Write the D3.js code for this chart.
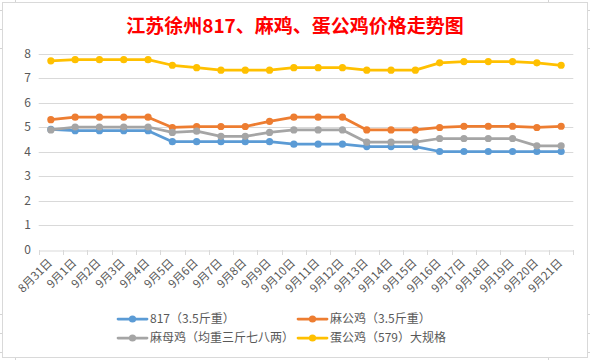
<!DOCTYPE html>
<html><head><meta charset="utf-8">
<script src="https://cdn.jsdelivr.net/npm/d3@7/dist/d3.min.js"></script>
<style>
html,body{margin:0;padding:0;background:#fff;}
svg{display:block;}
text{font-family:"Noto Sans CJK SC","Noto Sans",sans-serif;}
</style></head>
<body>
<svg id="chart" width="590" height="360"></svg>
<script>
const title = "江苏徐州817、麻鸡、蛋公鸡价格走势图";
const categories = ["8月31日","9月1日","9月2日","9月3日","9月4日","9月5日","9月6日","9月7日","9月8日","9月9日","9月10日","9月11日","9月12日","9月13日","9月14日","9月15日","9月16日","9月17日","9月18日","9月19日","9月20日","9月21日"];
const seriesNames = ["817（3.5斤重）","麻公鸡（3.5斤重）","麻母鸡（均重三斤七八两）","蛋公鸡（579）大规格"];
const s817   = [4.9,4.85,4.85,4.85,4.85,4.4,4.4,4.4,4.4,4.4,4.3,4.3,4.3,4.2,4.2,4.2,4.0,4.0,4.0,4.0,4.0,4.0];
const sMaGong= [5.3,5.4,5.4,5.4,5.4,4.98,5.02,5.02,5.02,5.23,5.4,5.4,5.4,4.88,4.88,4.88,4.98,5.03,5.03,5.03,4.98,5.03];
const sMaMu  = [4.88,5.0,5.0,5.0,5.0,4.78,4.83,4.62,4.62,4.78,4.88,4.88,4.88,4.38,4.38,4.38,4.53,4.53,4.53,4.53,4.23,4.23];
const sDan   = [7.7,7.75,7.75,7.75,7.75,7.52,7.42,7.32,7.32,7.32,7.42,7.42,7.42,7.32,7.32,7.32,7.62,7.67,7.67,7.67,7.62,7.52];
const yTicks = [0,1,2,3,4,5,6,7,8];
const colors = ["#5b9bd5","#ed7d31","#a5a5a5","#ffc000"];

const svg = d3.select("#chart");
svg.append("rect").attr("width",590).attr("height",360).attr("fill","#fff");

// spreadsheet cell marks outside chart
const g0 = svg.append("g").attr("stroke","#d4d4d4").attr("stroke-width",1);
[10,29,48,314,333,352].forEach(y=>{
  g0.append("line").attr("x1",0).attr("x2",2.5).attr("y1",y+0.5).attr("y2",y+0.5);
  g0.append("line").attr("x1",587.5).attr("x2",590).attr("y1",y+0.5).attr("y2",y+0.5);
});
[15,548].forEach(x=>{
  g0.append("line").attr("x1",x+0.5).attr("x2",x+0.5).attr("y1",0).attr("y2",2.5);
  g0.append("line").attr("x1",x+0.5).attr("x2",x+0.5).attr("y1",357.5).attr("y2",360);
});
// chart border
svg.append("rect").attr("x",2.5).attr("y",2.5).attr("width",585).attr("height",355)
  .attr("fill","#fff").attr("stroke","#d9d9d9").attr("stroke-width",1);

svg.append("text").attr("x",295).attr("y",33).attr("text-anchor","middle")
  .attr("fill","#ff0000").attr("font-size",19).attr("font-weight","bold").text(title);

const x = d3.scaleBand().domain(categories).range([38.7,573.3]);
const y = d3.scaleLinear().domain([0,8]).range([249.5,53.5]);

// gridlines
svg.append("g").selectAll("line").data(yTicks.filter(d=>d>0)).join("line")
  .attr("x1",38.7).attr("x2",573.3)
  .attr("y1",d=>Math.round(y(d))+0.5).attr("y2",d=>Math.round(y(d))+0.5)
  .attr("stroke","#d9d9d9").attr("stroke-width",1);

// y axis labels
const ya = svg.append("g").attr("transform","translate(31,0)")
  .call(d3.axisLeft(y).tickValues(yTicks).tickSize(0).tickPadding(0));
ya.select(".domain").remove();
ya.selectAll("text").attr("font-size",12).attr("fill","#595959")
  .attr("font-family","'Noto Sans CJK SC','Noto Sans',sans-serif");

// x axis
const xa = svg.append("g").attr("transform",`translate(0,${Math.round(y(0))+0.5})`)
  .call(d3.axisBottom(x).tickSize(0));
xa.select(".domain").attr("stroke","#d9d9d9");
xa.selectAll(".tick text").remove();
// boundary ticks
const bounds = categories.map(c=>x(c)).concat([x.range()[1]]);
svg.append("g").selectAll("line").data(bounds).join("line")
  .attr("x1",d=>Math.round(d)+0.5).attr("x2",d=>Math.round(d)+0.5)
  .attr("y1",Math.round(y(0))).attr("y2",Math.round(y(0))+5)
  .attr("stroke","#d9d9d9");
svg.append("g").selectAll("text").data(categories).join("text")
  .attr("transform",d=>`translate(${x(d)+x.bandwidth()/2+2},${y(0)+14}) rotate(-45)`)
  .attr("text-anchor","end").attr("font-size",11.5).attr("fill","#595959").text(d=>d);

// series
const allSeries = [s817,sMaGong,sMaMu,sDan];
const line = d3.line().x((d,i)=>x(categories[i])+x.bandwidth()/2).y(d=>y(d));
allSeries.forEach((s,k)=>{
  const g = svg.append("g");
  g.append("path").attr("d",line(s)).attr("fill","none").attr("stroke",colors[k])
    .attr("stroke-width",2.75).attr("stroke-linejoin","round").attr("stroke-linecap","round");
  g.selectAll("circle").data(s).join("circle")
    .attr("cx",(d,i)=>x(categories[i])+x.bandwidth()/2).attr("cy",d=>y(d))
    .attr("r",3.6).attr("fill",colors[k]);
});

// legend
const legendPos = [[118,319],[298,319],[118,338],[298,338]];
seriesNames.forEach((n,k)=>{
  const [lx,ly] = legendPos[k];
  const g = svg.append("g");
  g.append("line").attr("x1",lx).attr("x2",lx+29).attr("y1",ly).attr("y2",ly)
    .attr("stroke",colors[k]).attr("stroke-width",2.75).attr("stroke-linecap","round");
  g.append("circle").attr("cx",lx+14.5).attr("cy",ly).attr("r",3.6).attr("fill",colors[k]);
  g.append("text").attr("x",lx+32).attr("y",ly+4.3).attr("font-size",12).attr("fill","#595959").text(n);
});
</script>
</body></html>
